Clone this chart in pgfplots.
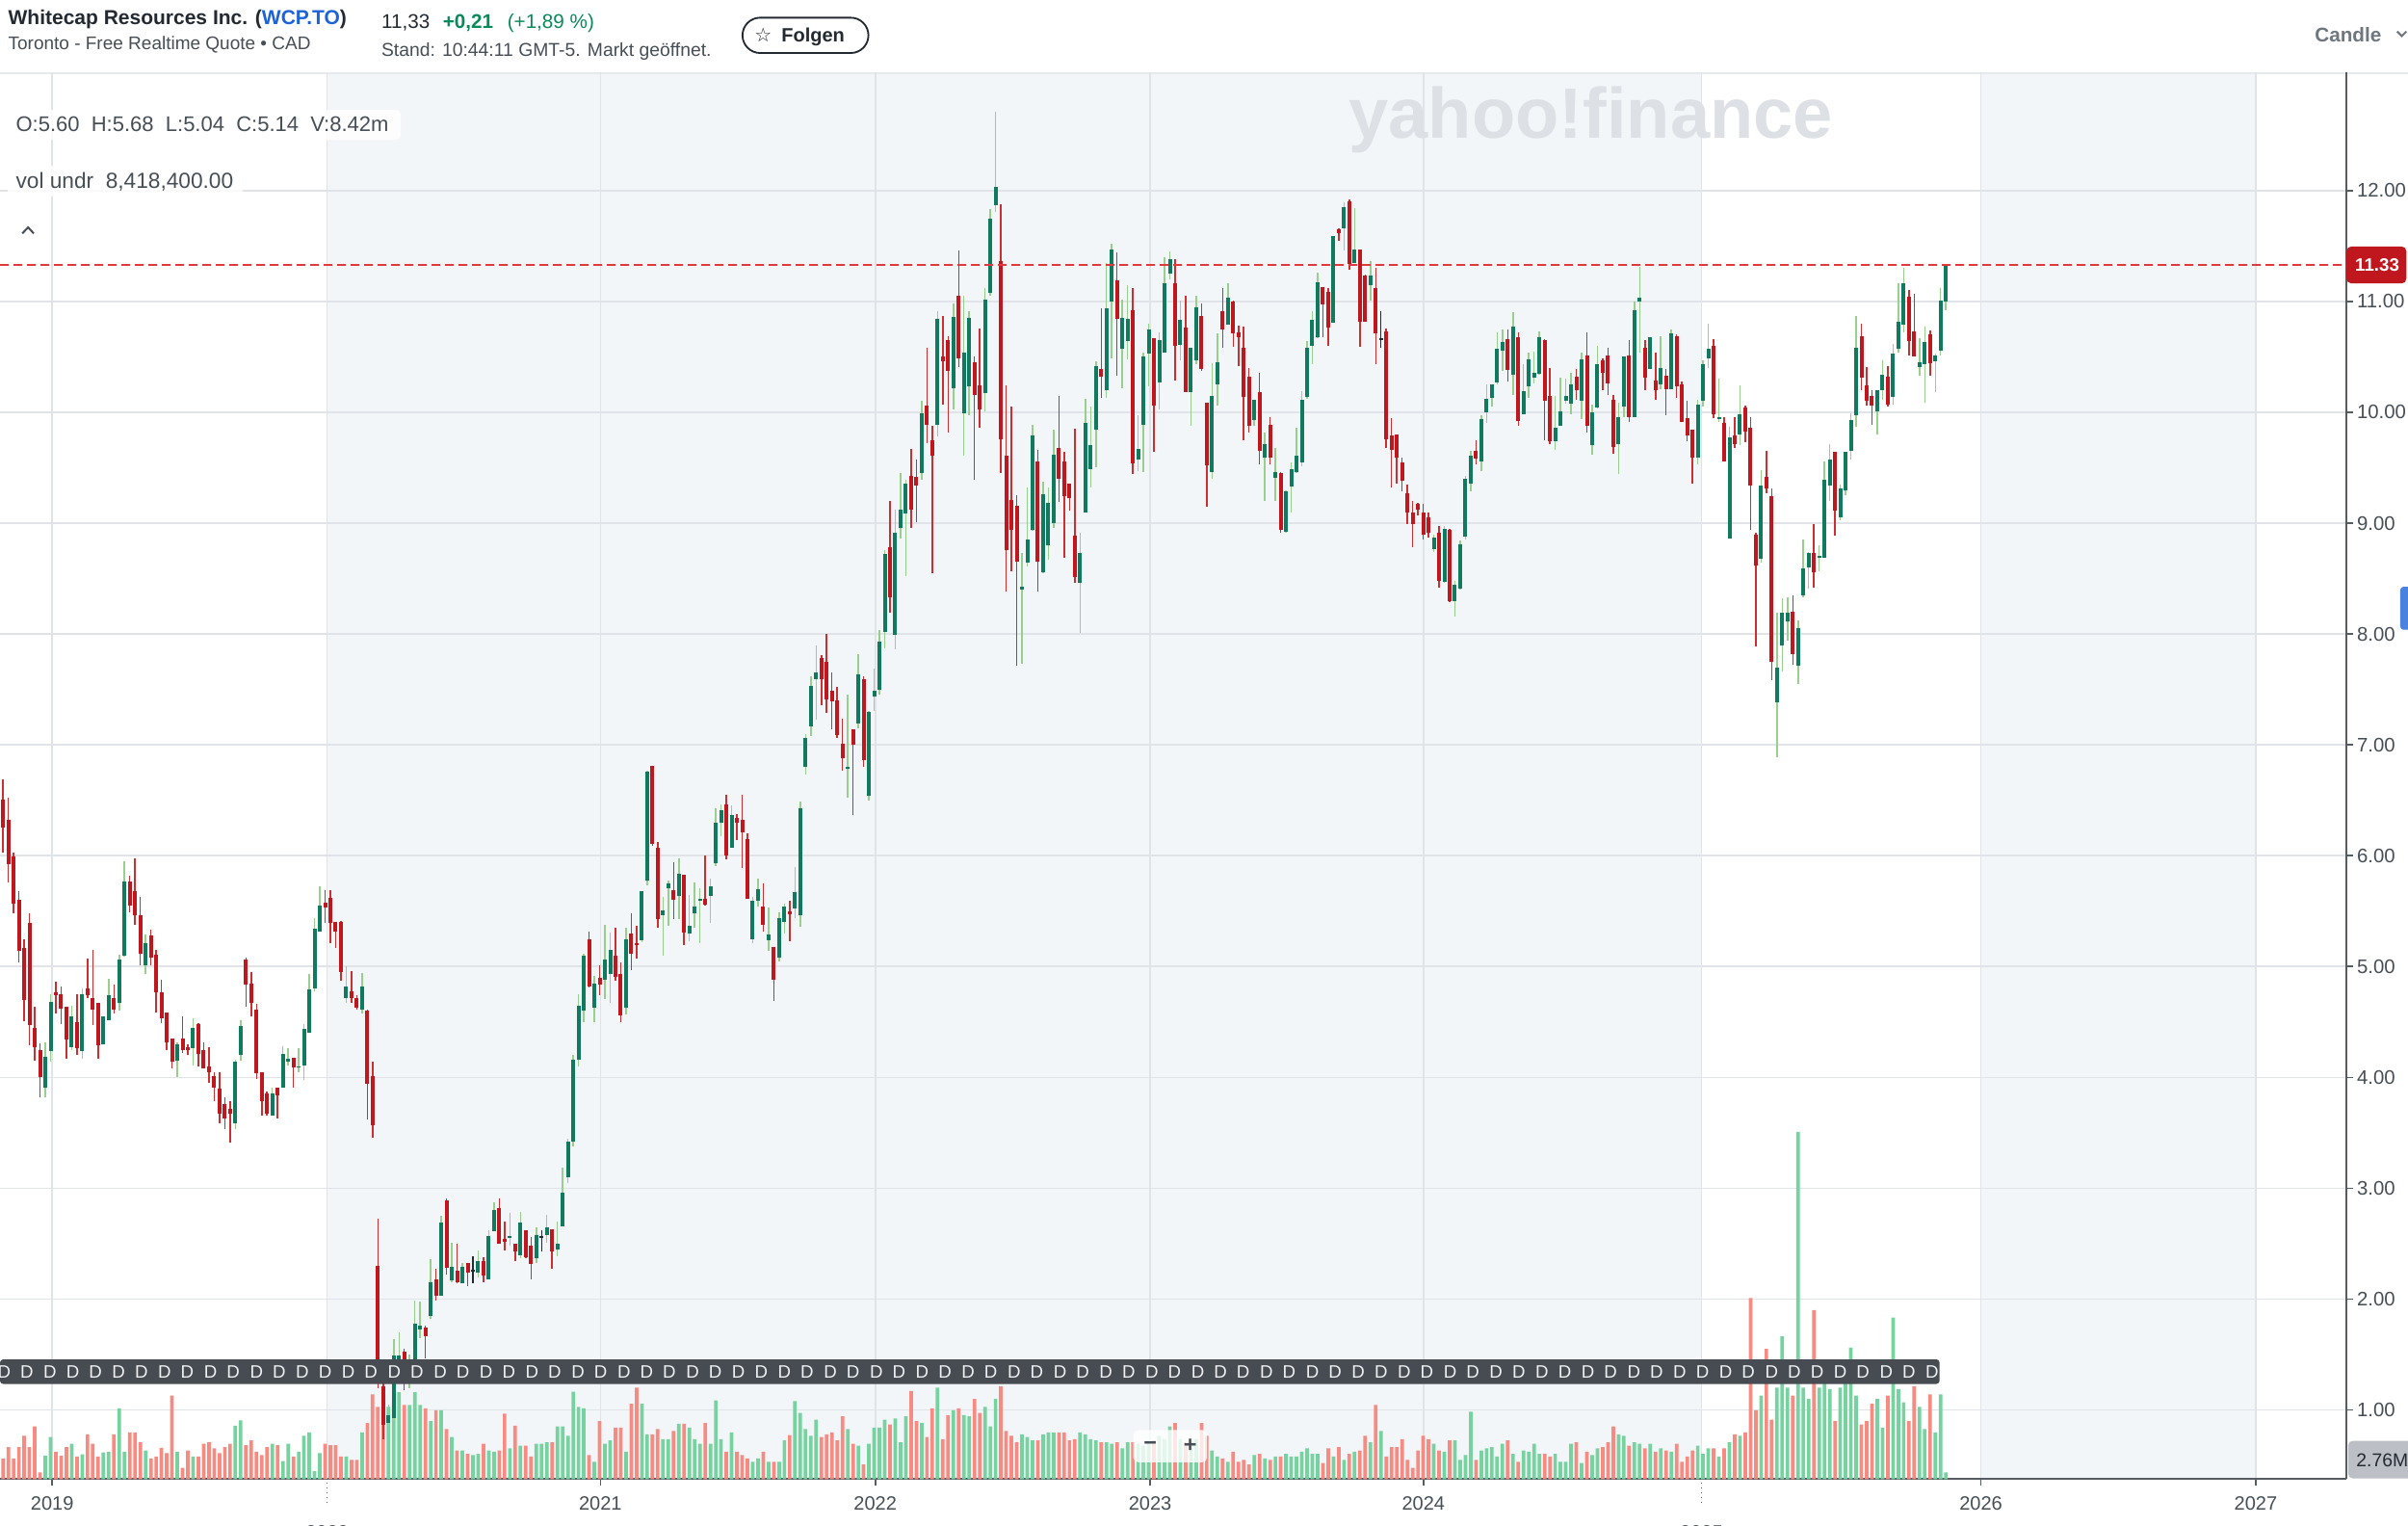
\documentclass[border=0pt]{standalone}
\usepackage{pgfplots}
\pgfplotsset{compat=1.18}
\usepackage{pgfplotstable}
\usepackage{graphicx}
\usepackage{fontspec}
\setmainfont{Liberation Sans}
\newfontfamily\dejavu{DejaVu Sans}
\definecolor{titc}{HTML}{232A31}
\definecolor{subc}{HTML}{464E56}
\definecolor{linkc}{HTML}{1D63D8}
\definecolor{upc}{HTML}{0A8A5A}
\definecolor{candc}{HTML}{6E7780}
\definecolor{sepc}{HTML}{E6E9ED}
\definecolor{labc}{HTML}{464E56}
\definecolor{axisc}{HTML}{565C62}
\definecolor{gridc}{HTML}{E0E4E9}
\definecolor{shadec}{HTML}{F3F6F9}
\definecolor{bodyg}{HTML}{0F7A5D}
\definecolor{bodyr}{HTML}{C0171F}
\definecolor{wickg}{HTML}{98CF8C}
\definecolor{wickr}{HTML}{CC2F2F}
\definecolor{dojic}{HTML}{232A31}
\definecolor{volg}{HTML}{76D3A0}
\definecolor{volr}{HTML}{F78B82}
\definecolor{bandc}{HTML}{474C52}
\definecolor{dtextc}{HTML}{EEF0F2}
\definecolor{pricel}{HTML}{E0393E}
\definecolor{pricec}{HTML}{C0161D}
\definecolor{volbox}{HTML}{BCC0C6}
\definecolor{wmc}{HTML}{DDE1E6}
\newcommand{\fs}[1]{\fontsize{#1}{#1}\selectfont}

\pgfplotstableread{
i o h l c v
0 6.51 6.69 6.03 6.25 3.1
1 6.32 6.52 5.76 5.92 4.8
2 5.99 6.03 5.48 5.57 3.1
3 5.60 5.68 5.04 5.14 4.8
4 5.17 5.25 4.51 4.70 6.5
5 5.39 5.48 4.29 4.47 4.8
6 4.45 4.64 4.15 4.27 7.9
7 4.25 4.31 3.82 4.00 1.0
8 3.91 4.32 3.82 4.19 3.5
9 4.24 4.75 4.14 4.68 6.3
10 4.77 4.86 4.58 4.74 4.1
11 4.75 4.82 4.48 4.62 3.5
12 4.64 4.64 4.17 4.34 4.8
13 4.27 4.65 4.25 4.55 5.3
14 4.50 4.75 4.20 4.26 3.4
15 4.24 4.80 4.17 4.75 3.7
16 4.80 5.07 4.72 4.74 6.7
17 4.72 5.15 4.47 4.61 5.3
18 4.67 4.67 4.17 4.29 3.4
19 4.30 4.55 4.30 4.55 4.0
20 4.52 4.89 4.52 4.74 4.1
21 4.72 4.84 4.58 4.61 6.7
22 4.67 5.11 4.60 5.06 10.6
23 5.10 5.95 5.09 5.77 4.1
24 5.77 5.82 5.49 5.55 7.0
25 5.68 5.98 5.38 5.46 7.0
26 5.46 5.63 5.01 5.12 5.5
27 5.01 5.29 4.93 5.21 4.3
28 5.28 5.33 5.01 5.08 3.1
29 5.11 5.15 4.59 4.77 3.4
30 4.77 4.88 4.49 4.53 4.7
31 4.59 4.59 4.25 4.32 3.9
32 4.35 4.35 4.08 4.14 12.5
33 4.15 4.32 4.00 4.30 4.1
34 4.35 4.55 4.22 4.25 1.7
35 4.27 4.30 4.20 4.25 4.3
36 4.26 4.53 4.11 4.45 3.4
37 4.48 4.49 4.10 4.21 3.4
38 4.25 4.32 4.08 4.08 5.3
39 4.10 4.27 3.95 4.05 5.5
40 4.01 4.05 3.79 3.91 4.6
41 3.90 4.05 3.59 3.67 3.9
42 3.76 3.82 3.53 3.63 4.8
43 3.72 3.79 3.41 3.67 5.3
44 3.59 4.16 3.53 4.14 8.0
45 4.20 4.52 4.15 4.46 8.8
46 5.06 5.08 4.64 4.84 5.1
47 4.85 4.95 4.55 4.67 5.8
48 4.61 4.66 3.99 4.04 4.1
49 4.05 4.05 3.66 3.79 3.6
50 3.86 3.87 3.66 3.67 4.8
51 3.66 3.91 3.66 3.86 5.3
52 3.91 3.91 3.63 3.84 5.1
53 3.91 4.28 3.91 4.21 2.7
54 4.14 4.26 4.11 4.17 5.3
55 4.18 4.18 3.91 4.09 3.4
56 4.09 4.26 4.05 4.10 4.1
57 4.11 4.48 3.98 4.44 6.5
58 4.40 4.93 4.40 4.79 7.0
59 4.80 5.44 4.78 5.34 1.2
60 5.32 5.72 5.32 5.55 3.9
61 5.58 5.69 5.39 5.53 5.3
62 5.62 5.69 5.21 5.39 5.1
63 5.40 5.40 5.17 5.32 5.1
64 5.40 5.41 4.87 4.95 3.4
65 4.72 5.00 4.67 4.82 3.4
66 4.78 4.96 4.67 4.72 2.9
67 4.72 4.74 4.61 4.63 2.9
68 4.61 4.94 4.58 4.82 7.0
69 4.60 4.61 3.62 3.94 8.4
70 4.01 4.14 3.46 3.57 12.7
71 2.30 2.73 1.20 1.25 10.8
72 1.21 1.40 0.74 0.87 8.4
73 0.88 1.05 0.80 0.95 10.8
74 0.93 1.64 0.90 1.49 11.5
75 1.35 1.70 1.25 1.49 13.0
76 1.53 1.55 1.18 1.25 11.1
77 1.25 1.50 1.20 1.45 11.1
78 1.45 1.99 1.40 1.78 13.0
79 1.73 1.98 1.65 1.76 11.1
80 1.74 1.76 1.47 1.67 10.6
81 1.85 2.36 1.82 2.15 8.7
82 2.18 2.27 1.99 2.03 10.3
83 2.03 2.75 2.03 2.69 10.3
84 2.89 2.91 2.22 2.28 7.5
85 2.17 2.51 2.15 2.29 6.3
86 2.26 2.50 2.14 2.15 4.3
87 2.14 2.33 2.14 2.29 4.3
88 2.33 2.33 2.12 2.24 3.8
89 2.26 2.39 2.14 2.26 3.6
90 2.24 2.44 2.20 2.34 3.8
91 2.34 2.38 2.15 2.21 5.3
92 2.18 2.62 2.18 2.57 4.3
93 2.61 2.87 2.61 2.80 4.1
94 2.82 2.91 2.50 2.50 4.3
95 2.54 2.70 2.44 2.52 9.8
96 2.56 2.78 2.48 2.57 4.6
97 2.50 2.50 2.34 2.43 8.0
98 2.40 2.79 2.37 2.69 5.0
99 2.62 2.62 2.37 2.38 5.0
100 2.48 2.56 2.18 2.32 3.4
101 2.37 2.65 2.33 2.58 5.3
102 2.56 2.62 2.43 2.56 5.3
103 2.58 2.76 2.51 2.65 5.5
104 2.63 2.63 2.27 2.43 5.5
105 2.45 2.70 2.39 2.50 7.9
106 2.66 3.19 2.66 2.96 7.9
107 3.10 3.45 3.05 3.42 6.5
108 3.42 4.20 3.38 4.16 13.1
109 4.16 4.75 4.10 4.65 10.8
110 4.60 5.12 4.50 5.10 10.6
111 5.25 5.32 4.81 4.82 3.6
112 4.63 4.92 4.50 4.85 2.6
113 4.90 5.01 4.74 4.84 8.7
114 4.88 5.38 4.71 5.06 5.3
115 4.93 5.31 4.67 5.15 5.8
116 5.10 5.35 4.87 4.91 7.7
117 4.93 5.04 4.50 4.56 7.7
118 4.63 5.35 4.57 5.25 4.1
119 5.30 5.48 4.97 5.12 11.3
120 5.21 5.37 5.07 5.20 13.7
121 5.24 5.68 5.22 5.68 11.3
122 5.78 6.77 5.73 6.76 6.7
123 6.81 6.81 6.09 6.11 6.7
124 6.07 6.12 5.35 5.43 7.5
125 5.46 5.63 5.10 5.51 6.0
126 5.71 5.78 5.37 5.75 6.0
127 5.69 5.94 5.43 5.60 7.2
128 5.64 5.98 5.43 5.84 8.3
129 5.83 5.83 5.19 5.31 8.3
130 5.30 5.65 5.23 5.37 7.7
131 5.48 5.76 5.35 5.54 6.0
132 5.60 5.71 5.21 5.61 5.3
133 5.61 6.00 5.55 5.56 8.4
134 5.64 5.79 5.39 5.72 5.3
135 5.93 6.43 5.91 6.30 11.8
136 6.30 6.46 6.18 6.41 6.0
137 6.46 6.55 5.97 6.00 4.1
138 6.07 6.45 6.07 6.37 7.0
139 6.34 6.38 6.14 6.30 4.1
140 6.32 6.55 5.89 6.21 3.6
141 6.15 6.20 5.61 5.61 3.1
142 5.25 5.63 5.21 5.59 2.6
143 5.59 5.79 5.54 5.70 3.1
144 5.54 5.75 5.32 5.38 4.1
145 5.24 5.53 5.14 5.29 2.6
146 5.18 5.18 4.69 4.88 2.6
147 5.08 5.49 5.05 5.44 2.6
148 5.40 5.57 5.30 5.54 5.8
149 5.50 5.59 5.23 5.47 6.6
150 5.52 5.90 5.44 5.67 11.7
151 5.46 6.49 5.36 6.43 9.9
152 6.80 7.10 6.73 7.06 7.5
153 7.17 7.62 7.08 7.53 6.5
154 7.59 7.90 7.23 7.65 8.9
155 7.78 7.81 7.36 7.59 6.3
156 7.75 8.00 7.29 7.41 6.7
157 7.49 7.65 7.14 7.39 7.0
158 7.40 7.52 7.06 7.09 5.8
159 7.01 7.24 6.77 6.88 9.4
160 6.79 7.45 6.52 6.80 7.5
161 7.14 7.14 6.37 7.00 5.3
162 7.19 7.82 7.15 7.64 5.0
163 7.59 7.62 6.80 6.86 2.2
164 6.54 7.31 6.50 7.30 5.3
165 7.44 7.69 7.31 7.49 7.7
166 7.50 8.04 7.45 7.93 7.7
167 8.02 8.76 7.87 8.72 8.9
168 8.78 9.20 8.19 8.33 8.2
169 7.99 9.12 7.86 8.91 9.1
170 8.96 9.45 8.86 9.12 5.5
171 9.09 9.39 8.52 9.36 9.4
172 9.43 9.67 8.96 9.12 13.2
173 9.42 9.57 9.01 9.34 8.7
174 9.45 10.10 9.39 9.99 8.4
175 10.06 10.58 9.72 9.89 6.3
176 9.75 9.88 8.55 9.61 10.6
177 9.89 10.91 9.78 10.84 13.7
178 10.50 10.87 10.07 10.46 6.0
179 10.65 10.69 9.82 10.37 9.6
180 10.22 10.98 10.03 10.86 10.3
181 11.05 11.46 10.41 10.49 10.6
182 9.99 11.05 9.61 10.54 9.6
183 10.23 10.91 9.97 10.85 9.4
184 10.45 10.50 9.39 10.16 12.0
185 10.24 10.76 9.86 10.03 9.9
186 10.17 11.12 10.01 11.02 10.8
187 11.08 11.83 11.05 11.75 7.9
188 11.87 12.71 11.81 12.03 12.0
189 11.36 11.88 9.45 9.76 13.9
190 9.61 10.24 8.38 8.76 7.2
191 9.21 10.05 8.57 8.94 6.5
192 9.16 9.25 7.71 8.65 5.5
193 8.40 8.73 7.73 8.43 6.7
194 8.64 9.32 8.61 8.85 6.3
195 8.94 9.89 8.93 9.79 5.8
196 9.56 9.66 8.38 8.65 5.8
197 8.56 9.37 8.55 9.26 6.7
198 8.80 9.32 8.67 9.18 7.0
199 9.00 9.84 8.96 9.62 7.0
200 9.68 10.15 9.19 9.40 7.0
201 9.56 9.64 8.69 9.24 7.0
202 9.36 9.36 9.11 9.23 5.8
203 8.89 9.85 8.46 8.51 6.0
204 8.46 8.91 8.01 8.73 7.0
205 9.10 10.12 9.10 9.90 6.7
206 9.49 10.05 9.32 9.70 6.0
207 9.84 10.46 9.50 10.42 5.8
208 10.39 10.94 10.13 10.32 5.5
209 10.20 11.35 10.13 10.94 5.5
210 11.00 11.52 10.49 11.47 5.3
211 11.19 11.44 10.33 10.84 5.5
212 10.57 11.02 10.22 10.85 4.6
213 10.64 11.15 10.48 10.84 5.5
214 10.92 11.12 9.44 9.54 5.5
215 9.57 9.97 9.47 9.67 5.3
216 9.89 10.54 9.46 10.50 5.0
217 10.53 10.80 10.23 10.75 5.5
218 10.67 10.67 9.64 10.06 5.8
219 10.27 10.72 10.03 10.65 6.5
220 10.54 11.40 10.54 11.16 6.0
221 11.25 11.45 11.20 11.38 7.9
222 11.16 11.38 10.29 10.60 8.4
223 10.61 11.01 10.47 10.83 6.0
224 10.76 11.05 10.18 10.18 5.5
225 10.18 10.58 9.88 10.58 5.0
226 10.47 11.05 10.43 10.95 6.0
227 10.87 10.98 10.37 10.39 8.4
228 10.09 10.09 9.15 9.52 6.5
229 9.46 10.44 9.40 10.15 4.3
230 10.25 10.71 10.06 10.45 3.4
231 10.91 11.12 10.58 10.75 3.1
232 10.79 11.16 10.79 11.03 2.6
233 11.00 11.01 10.59 10.71 4.1
234 10.72 10.78 10.42 10.68 2.6
235 10.58 10.77 9.75 10.14 2.9
236 10.32 10.40 9.82 9.88 2.2
237 9.93 10.11 9.88 10.11 3.6
238 10.18 10.36 9.53 9.65 3.8
239 9.59 9.82 9.20 9.71 3.1
240 9.89 9.96 9.53 9.59 2.9
241 9.41 9.68 9.20 9.46 3.4
242 9.45 9.46 8.91 8.94 3.4
243 8.92 9.30 8.91 9.29 3.8
244 9.33 9.55 9.10 9.49 3.4
245 9.46 9.86 9.45 9.61 3.4
246 9.55 10.19 9.51 10.11 4.1
247 10.14 10.64 10.12 10.58 4.6
248 10.60 10.91 10.43 10.83 3.8
249 10.68 11.26 10.67 11.17 3.8
250 11.13 11.13 10.68 10.97 2.4
251 11.09 11.12 10.60 10.76 4.6
252 10.81 11.59 10.81 11.59 3.4
253 11.65 11.66 11.55 11.62 4.8
254 11.66 11.89 11.46 11.85 2.9
255 11.90 11.92 11.29 11.34 3.8
256 11.35 11.84 11.35 11.47 4.1
257 11.47 11.47 10.59 10.82 4.3
258 11.23 11.24 10.82 10.82 6.5
259 11.15 11.36 11.01 11.23 5.5
260 11.12 11.30 10.43 10.71 11.1
261 10.66 10.91 10.58 10.66 7.2
262 10.73 10.76 9.68 9.76 3.4
263 9.79 9.95 9.32 9.66 4.8
264 9.80 9.80 9.36 9.59 4.8
265 9.55 9.59 9.29 9.38 6.0
266 9.27 9.35 8.99 9.10 2.9
267 9.10 9.20 8.78 8.99 1.7
268 9.17 9.18 9.07 9.12 4.3
269 9.10 9.17 8.85 8.90 6.5
270 9.05 9.10 8.87 8.91 6.0
271 8.77 8.90 8.74 8.87 5.3
272 8.91 8.97 8.42 8.48 4.3
273 8.47 8.97 8.46 8.95 4.1
274 8.94 8.95 8.29 8.30 5.8
275 8.30 8.48 8.16 8.44 5.8
276 8.41 8.84 8.40 8.81 2.9
277 8.88 9.43 8.85 9.40 3.6
278 9.36 9.65 9.29 9.61 10.1
279 9.65 9.75 9.53 9.58 2.9
280 9.56 9.97 9.47 9.94 4.3
281 10.00 10.25 9.90 10.12 4.6
282 10.13 10.25 10.05 10.25 4.8
283 10.27 10.72 10.25 10.57 3.4
284 10.56 10.75 10.37 10.63 5.3
285 10.66 10.75 10.28 10.38 5.8
286 10.34 10.90 10.16 10.77 3.8
287 10.68 10.72 9.88 9.92 2.6
288 9.98 10.43 9.98 10.19 4.3
289 10.23 10.54 10.13 10.48 4.1
290 10.31 10.55 10.26 10.36 5.3
291 10.35 10.73 10.34 10.68 3.8
292 10.65 10.66 9.75 10.10 3.8
293 10.15 10.40 9.71 9.74 3.4
294 9.74 10.15 9.66 9.86 3.8
295 9.88 10.31 9.88 10.01 2.6
296 10.10 10.30 10.08 10.15 2.6
297 10.08 10.36 9.98 10.25 5.3
298 10.32 10.39 10.11 10.20 5.5
299 10.10 10.54 9.94 10.48 2.4
300 10.51 10.72 9.82 9.88 4.1
301 9.70 10.07 9.62 10.00 3.6
302 10.04 10.60 10.03 10.43 4.6
303 10.47 10.49 10.20 10.36 4.8
304 10.51 10.58 10.16 10.26 5.5
305 10.11 10.16 9.63 9.69 7.9
306 9.71 10.09 9.44 9.96 6.7
307 10.05 10.50 9.96 10.50 6.5
308 10.51 10.65 9.91 9.96 5.0
309 9.96 11.00 9.96 10.92 5.5
310 11.00 11.31 10.54 11.03 5.3
311 10.58 10.65 10.20 10.31 4.6
312 10.39 10.68 10.39 10.68 5.3
313 10.29 10.54 10.11 10.20 4.1
314 10.25 10.69 10.21 10.40 4.6
315 10.33 10.39 9.97 10.21 4.3
316 10.21 10.75 10.21 10.71 4.1
317 10.69 10.70 10.13 10.23 5.3
318 10.25 10.28 9.91 9.91 2.6
319 9.95 10.10 9.74 9.79 3.4
320 9.84 9.84 9.36 9.59 4.3
321 9.59 10.11 9.53 10.07 5.0
322 10.10 10.47 10.05 10.43 3.8
323 10.49 10.80 10.40 10.57 4.6
324 10.60 10.66 9.95 9.98 4.6
325 9.94 10.30 9.91 9.95 3.4
326 9.90 9.96 9.56 9.56 4.6
327 8.86 9.87 8.86 9.77 5.5
328 9.79 9.96 9.68 9.71 6.7
329 9.80 10.24 9.70 9.98 6.5
330 10.04 10.06 9.73 9.83 7.0
331 9.86 9.96 8.94 9.34 27.1
332 8.90 8.91 7.89 8.62 10.3
333 8.68 9.48 8.64 9.34 12.5
334 9.42 9.65 9.27 9.31 19.5
335 9.24 9.31 7.58 7.75 8.9
336 7.38 8.19 6.89 7.70 13.7
337 7.90 8.32 7.66 8.19 21.4
338 8.11 8.33 7.94 8.19 13.7
339 8.20 8.35 7.72 7.82 12.5
340 7.71 8.12 7.55 8.05 52.0
341 8.35 8.85 8.33 8.59 13.7
342 8.60 8.74 8.41 8.73 12.0
343 8.73 8.99 8.42 8.56 25.3
344 8.69 8.80 8.57 8.70 13.7
345 8.69 9.56 8.69 9.39 15.2
346 9.34 9.71 9.20 9.57 13.5
347 9.64 9.64 8.89 9.11 8.7
348 9.05 9.35 9.03 9.31 13.7
349 9.30 9.64 9.25 9.64 15.4
350 9.65 9.99 9.57 9.93 19.7
351 9.97 10.87 9.87 10.58 12.5
352 10.69 10.80 10.20 10.31 8.2
353 10.24 10.41 10.06 10.10 8.7
354 10.15 10.20 9.89 10.06 11.3
355 10.01 10.20 9.80 10.20 12.0
356 10.20 10.47 10.11 10.34 7.7
357 10.32 10.42 10.05 10.07 12.5
358 10.14 10.62 10.07 10.53 24.2
359 10.57 11.16 10.54 10.82 13.5
360 10.79 11.30 10.72 11.16 11.5
361 11.04 11.10 10.51 10.64 8.7
362 10.73 11.07 10.50 10.50 13.9
363 10.41 10.67 10.33 10.45 10.8
364 10.43 10.77 10.09 10.63 7.5
365 10.70 10.74 10.33 10.44 12.7
366 10.46 10.53 10.18 10.51 7.0
367 10.56 11.12 10.51 11.01 12.7
368 11.00 11.33 10.92 11.33 1.0
}\data

\pgfplotstableread{
x y
0.2 1.346
4.5 1.346
8.9 1.346
13.2 1.346
17.5 1.346
21.9 1.346
26.2 1.346
30.6 1.346
34.9 1.346
39.3 1.346
43.6 1.346
48.0 1.346
52.3 1.346
56.7 1.346
61.0 1.346
65.4 1.346
69.7 1.346
74.1 1.346
78.4 1.346
82.8 1.346
87.1 1.346
91.5 1.346
95.8 1.346
100.2 1.346
104.5 1.346
108.9 1.346
113.2 1.346
117.6 1.346
121.9 1.346
126.2 1.346
130.6 1.346
134.9 1.346
139.3 1.346
143.6 1.346
148.0 1.346
152.3 1.346
156.7 1.346
161.0 1.346
165.4 1.346
169.7 1.346
174.1 1.346
178.4 1.346
182.8 1.346
187.1 1.346
191.5 1.346
195.8 1.346
200.2 1.346
204.5 1.346
208.9 1.346
213.2 1.346
217.6 1.346
221.9 1.346
226.3 1.346
230.6 1.346
234.9 1.346
239.3 1.346
243.6 1.346
248.0 1.346
252.3 1.346
256.7 1.346
261.0 1.346
265.4 1.346
269.7 1.346
274.1 1.346
278.4 1.346
282.8 1.346
287.1 1.346
291.5 1.346
295.8 1.346
300.2 1.346
304.5 1.346
308.9 1.346
313.2 1.346
317.6 1.346
321.9 1.346
326.3 1.346
330.6 1.346
335.0 1.346
339.3 1.346
343.6 1.346
348.0 1.346
352.3 1.346
356.7 1.346
361.0 1.346
365.4 1.346
}\divs

\begin{document}
\begin{tikzpicture}
\useasboundingbox (0pt,0pt) rectangle (750pt,-474.95pt);
\begin{scope}[x=0.4783pt,y=-0.4783pt]
\fill[white] (0,0) rectangle (1568,993);
\fill[shadec] (213,47.5) rectangle (1108,963);
\fill[shadec] (1290,47.5) rectangle (1469,963);
\draw[sepc, line width=0.5pt] (0,47.5) -- (1568,47.5);
\node[anchor=base west, inner sep=0, text=titc] at (5,15.7) {\fs{6.3}\bfseries Whitecap Resources Inc. (\textcolor{linkc}{WCP.TO})};
\node[anchor=base west, inner sep=0, text=subc] at (5,32.4) {\fs{5.7}Toronto - Free Realtime Quote • CAD};
\node[anchor=base west, inner sep=0, text=titc] at (248,18.4) {\fs{6.2}11,33};
\node[anchor=base west, inner sep=0, text=upc] at (288,18.4) {\fs{6.2}\bfseries +0,21};
\node[anchor=base west, inner sep=0, text=upc] at (330,18.4) {\fs{6.2}(+1,89 \%)};
\node[anchor=base west, inner sep=0, text=subc] at (248,36.6) {\fs{5.8}Stand: 10:44:11 GMT-5. Markt geöffnet.};
\draw[titc, line width=0.55pt, rounded corners=5.5pt] (483.5,11.5) rectangle (565.5,34.5);
\node[anchor=base, inner sep=0, text=titc] at (497,27.5) {\fs{6}\dejavu ☆};
\node[anchor=base west, inner sep=0, text=titc] at (508.5,27.5) {\fs{6}\bfseries Folgen};
\node[anchor=base west, inner sep=0, text=candc] at (1507,27) {\fs{6.2}\bfseries Candle};
\draw[candc, line width=0.6pt] (1561,20.5) -- (1564,23.5) -- (1567,20.5);
\end{scope}

\begin{axis}[
  at={(0pt,-460.6pt)}, anchor=south west,
  width=730.8pt, height=438.1pt, scale only axis,
  xmin=-0.58, xmax=443.86, ymin=0.3766, ymax=13.067,
  axis x line*=bottom, axis y line*=right,
  axis line style={draw=axisc, line width=0.55pt, -},
  tick align=outside, major tick length=2pt,
  tick style={draw=axisc, line width=0.5pt},
  xtick={9.31,113.15,165.21,217.28,269.05,374.64,426.70},
  xticklabels={2019,2021,2022,2023,2024,2026,2027},
  extra x ticks={61.37,321.70},
  extra x tick labels={2020,2025},
  extra x tick style={major tick length=7.5pt, tick style={densely dotted}, xticklabel style={overlay, yshift=-3.5pt}},
  ytick={1,2,...,12},
  xmajorgrids, ymajorgrids,
  grid style={draw=gridc, line width=0.5pt},
  xticklabel style={font=\fs{6}, text=labc},
  yticklabel style={font=\fs{6.1}, text=labc, xshift=-2.2pt, /pgf/number format/.cd, fixed, fixed zerofill, precision=2, assume math mode=true},
  unbounded coords=discard,
]
% volume
\addplot[ybar, bar width=0.68, bar shift=0pt, draw=none, fill=volg] table[x=i, y expr={\thisrow{c}>=\thisrow{o} ? \thisrow{v}*0.060242+0.3766 : nan}]{\data};
\addplot[ybar, bar width=0.68, bar shift=0pt, draw=none, fill=volr] table[x=i, y expr={\thisrow{c}<\thisrow{o} ? \thisrow{v}*0.060242+0.3766 : nan}]{\data};
% wicks
\addplot[draw=none, mark=none, error bars/.cd, y dir=both, y explicit, error mark=none, error bar style={draw=wickg, line width=0.45pt}] table[x=i, y expr={\thisrow{c}>\thisrow{o} ? (\thisrow{h}+\thisrow{l})/2 : nan}, y error expr={(\thisrow{h}-\thisrow{l})/2}]{\data};
\addplot[draw=none, mark=none, error bars/.cd, y dir=both, y explicit, error mark=none, error bar style={draw=wickr, line width=0.45pt}] table[x=i, y expr={\thisrow{c}<\thisrow{o} ? (\thisrow{h}+\thisrow{l})/2 : nan}, y error expr={(\thisrow{h}-\thisrow{l})/2}]{\data};
\addplot[draw=none, mark=none, error bars/.cd, y dir=both, y explicit, error mark=none, error bar style={draw=dojic, line width=0.45pt}] table[x=i, y expr={\thisrow{c}==\thisrow{o} ? (\thisrow{h}+\thisrow{l})/2 : nan}, y error expr={(\thisrow{h}-\thisrow{l})/2}]{\data};
% bodies
\addplot[draw=none, mark=none, error bars/.cd, y dir=both, y explicit, error mark=none, error bar style={draw=bodyg, line width=1.2pt}] table[x=i, y expr={\thisrow{c}>\thisrow{o} ? (\thisrow{o}+\thisrow{c})/2 : nan}, y error expr={max(abs(\thisrow{c}-\thisrow{o})/2,0.008)}]{\data};
\addplot[draw=none, mark=none, error bars/.cd, y dir=both, y explicit, error mark=none, error bar style={draw=bodyr, line width=1.2pt}] table[x=i, y expr={\thisrow{c}<\thisrow{o} ? (\thisrow{o}+\thisrow{c})/2 : nan}, y error expr={max(abs(\thisrow{c}-\thisrow{o})/2,0.008)}]{\data};
\addplot[draw=none, mark=none, error bars/.cd, y dir=both, y explicit, error mark=none, error bar style={draw=dojic, line width=1.2pt}] table[x=i, y expr={\thisrow{c}==\thisrow{o} ? \thisrow{c} : nan}, y error expr={0.008}]{\data};
% current price line
\draw[pricel, line width=0.5pt, dash pattern=on 2.6pt off 1.6pt] (axis cs:-0.58,11.33) -- (axis cs:443.86,11.33);
% dividend band
\fill[bandc, rounded corners=1pt] (axis cs:-0.58,1.2355) rectangle (axis cs:366.8,1.457);
\addplot[only marks, mark=text, text mark={D}, text mark as node, text mark style={font=\fs{5.6}, text=dtextc, inner sep=0pt}] table[x=x, y=y]{\divs};
\end{axis}

\begin{scope}[x=0.4783pt,y=-0.4783pt]
\fill[white, opacity=0.85, rounded corners=1.5pt] (5,71.5) rectangle (261,91);
\node[anchor=base west, inner sep=0, text=subc] at (10,85.7) {\fs{6.6}O:5.60\ \ H:5.68\ \ L:5.04\ \ C:5.14\ \ V:8.42m};
\fill[white, opacity=0.85] (5,108) rectangle (158,128);
\node[anchor=base west, inner sep=0, text=subc] at (10,122.3) {\fs{6.8}vol undr\ \ 8,418,400.00};
\draw[subc, line width=0.6pt] (14.5,152) -- (18.3,148) -- (22,152);
\node[anchor=base west, inner sep=0, text=wmc] at (878,90) {\resizebox{150.7pt}{!}{\bfseries yahoo!finance}};
\fill[pricec, rounded corners=1.5pt] (1528,160.5) rectangle (1567,184.5);
\node[text=white, inner sep=0] at (1548,172.5) {\fs{5.6}\bfseries 11.33};
\fill[volbox, rounded corners=1.5pt] (1529,938) rectangle (1580,962.5);
\node[anchor=base west, inner sep=0, text=titc] at (1534,955) {\fs{5.8}2.76M};
\fill[white, opacity=0.8, rounded corners=1.5pt] (738,931) rectangle (786,952);
\node[text=subc, inner sep=0] at (749,941.5) {\fs{7}\bfseries −};
\node[text=subc, inner sep=0] at (775,941.5) {\fs{7}\bfseries +};
\fill[linkc!80, rounded corners=1pt] (1563,382) rectangle (1572,410);
\end{scope}
\end{tikzpicture}
\end{document}
